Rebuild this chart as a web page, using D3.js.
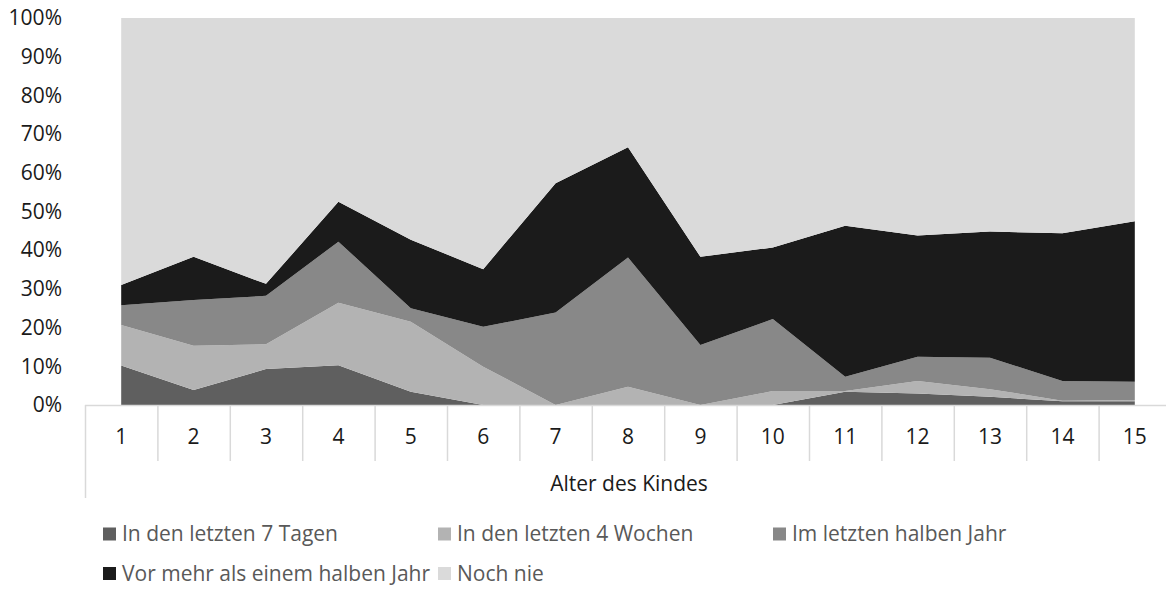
<!DOCTYPE html>
<html>
<head>
<meta charset="utf-8">
<script src="https://cdn.jsdelivr.net/npm/d3@7"></script>
<style>
	body { margin: 0; background: #fff; }
	svg { display: block; font-family: "Open Sans", sans-serif; }
</style>
</head>
<body>
<div id="chart"></div>
<script>
// Alter des Kindes
const ages = ["1", "2", "3", "4", "5", "6", "7", "8", "9", "10", "11", "12", "13", "14", "15"];

const seriesNames = [
	"In den letzten 7 Tagen",
	"In den letzten 4 Wochen",
	"Im letzten halben Jahr",
	"Vor mehr als einem halben Jahr",
	"Noch nie"
];
const seriesColors = ["#5f5f5f", "#b3b3b3", "#888888", "#1b1b1b", "#dadada"];

// shares in percent, per age
const letzte7Tage     = [10.2, 3.9, 9.3, 10.3, 3.4, 0, 0, 0, 0, 0, 3.4, 3.0, 2.1, 1.0, 1.0];
const letzte4Wochen   = [10.5, 11.4, 6.4, 16.1, 18.1, 9.9, 0, 4.7, 0, 3.6, 0.2, 3.2, 2.0, 0.1, 0.3];
const letztesHalbjahr = [5.1, 11.8, 12.5, 15.8, 3.5, 10.3, 23.9, 33.4, 15.5, 18.6, 3.7, 6.3, 8.1, 5.1, 4.7];
const vorMehrAlsHalbjahr = [5.2, 11.2, 3.1, 10.3, 17.7, 14.9, 33.4, 28.5, 22.8, 18.5, 39.0, 31.3, 32.6, 38.2, 41.5];
const nochNie          = [69.0, 61.7, 68.7, 47.5, 57.3, 64.9, 42.7, 33.4, 61.7, 59.3, 53.7, 56.2, 55.2, 55.6, 52.5];

const yTicks = [0, 0.1, 0.2, 0.3, 0.4, 0.5, 0.6, 0.7, 0.8, 0.9, 1];

const allSeries = [letzte7Tage, letzte4Wochen, letztesHalbjahr, vorMehrAlsHalbjahr, nochNie];
const rows = ages.map((a, i) => {
	const r = { age: a };
	seriesNames.forEach((n, k) => { r[n] = allSeries[k][i]; });
	return r;
});

const width = 1166, height = 592;
const fontSize = 21;
const svg = d3.select("#chart").append("svg")
	.attr("width", width)
	.attr("height", height);

const x = d3.scaleBand().domain(ages).range([85, 85 + 15 * 72.4]).padding(0);
const y = d3.scaleLinear().domain([0, 1]).range([405, 18]);
const cx = d => x(d) + x.bandwidth() / 2;

const stack = d3.stack().keys(seriesNames).offset(d3.stackOffsetExpand);
const layers = stack(rows);

const area = d3.area()
	.x(d => cx(d.data.age))
	.y0(d => y(d[0]))
	.y1(d => y(d[1]));

svg.append("g").selectAll("path")
	.data(layers)
	.join("path")
	.attr("d", area)
	.attr("fill", (d, i) => seriesColors[i]);

// y axis labels (no line)
const yAxis = d3.axisLeft(y).tickValues(yTicks).tickFormat(d3.format(".0%")).tickSize(0).tickPadding(0);
svg.append("g")
	.attr("transform", "translate(62,0)")
	.call(yAxis)
	.call(g => g.select(".domain").remove())
	.call(g => g.selectAll("text")
		.attr("font-size", fontSize)
		.attr("font-family", "Open Sans, sans-serif")
		.attr("fill", "#1a1a1a"));

// category axis with separator lines
const axisG = svg.append("g");
const lineColor = "#d9d9d9";
axisG.append("line")
	.attr("x1", 85).attr("x2", width)
	.attr("y1", 405.5).attr("y2", 405.5)
	.attr("stroke", lineColor).attr("stroke-width", 1.5);
axisG.selectAll("line.sep")
	.data(ages)
	.join("line")
	.attr("class", "sep")
	.attr("x1", d => x(d) + 0.5).attr("x2", d => x(d) + 0.5)
	.attr("y1", 405)
	.attr("y2", (d, i) => i === 0 ? 498 : 461)
	.attr("stroke", lineColor).attr("stroke-width", 1.5);
axisG.selectAll("text.cat")
	.data(ages)
	.join("text")
	.attr("class", "cat")
	.attr("x", d => cx(d))
	.attr("y", 437)
	.attr("dy", "0.35em")
	.attr("text-anchor", "middle")
	.attr("font-size", fontSize)
	.attr("fill", "#1a1a1a")
	.text(d => d);

svg.append("text")
	.attr("x", 629)
	.attr("y", 484)
	.attr("dy", "0.35em")
	.attr("text-anchor", "middle")
	.attr("font-size", fontSize)
	.attr("fill", "#1a1a1a")
	.text("Alter des Kindes");

// legend
const legendPos = [[103, 534], [438, 534], [773, 534], [103, 573.5], [438, 573.5]];
const legend = svg.append("g").selectAll("g")
	.data(seriesNames)
	.join("g")
	.attr("transform", (d, i) => `translate(${legendPos[i][0]},${legendPos[i][1]})`);
legend.append("rect")
	.attr("x", 0).attr("y", -6.5)
	.attr("width", 13).attr("height", 13)
	.attr("fill", (d, i) => seriesColors[i]);
legend.append("text")
	.attr("x", 19)
	.attr("dy", "0.35em")
	.attr("font-size", fontSize)
	.attr("fill", "#595959")
	.text(d => d);
</script>
</body>
</html>
